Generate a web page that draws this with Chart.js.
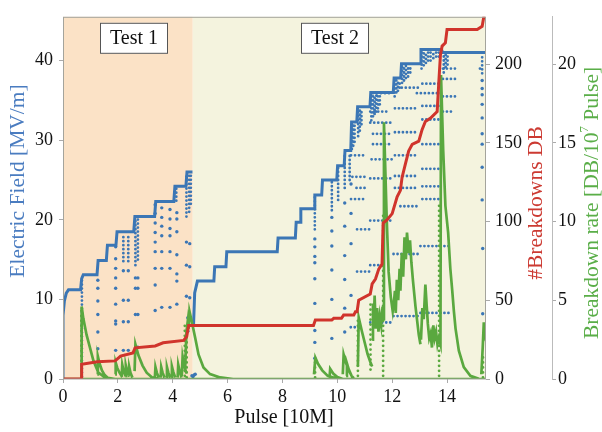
<!DOCTYPE html>
<html>
<head>
<meta charset="utf-8">
<script src="https://cdn.jsdelivr.net/npm/chart.js@4.4.1/dist/chart.umd.min.js"></script>
<style>
  body { margin: 0; background: #fff; }
</style>
</head>
<body>
<canvas id="chart" width="602" height="432"></canvas>
<script>
// ---- data ----
const xTicks = [0, 2, 4, 6, 8, 10, 12, 14];
const fieldTicks = [0, 10, 20, 30, 40];
const dbTicks = [0, 50, 100, 150, 200];
const rateTicks = [0, 5, 10, 15, 20];

const testNames = ["Test 1", "Test 2"];
const testStart = [0, 4.73];
const testEnd = [4.73, 15.42];
const testLabelAt = [2.59, 9.93];

// electric field steps [MV/m] vs pulse [10M]
const fieldPulse = [0, 0, 0.05, 0.12, 0.2, 0.64, 0.68, 0.74, 1.24, 1.28, 1.58, 1.62, 1.93, 1.97, 2.58, 2.62, 3.34, 3.38, 4.04, 4.08, 4.48, 4.52, 4.72, 4.74,
  4.76, 4.8, 4.9, 5.5, 5.53, 5.94, 5.97, 7.81, 7.84, 8.47, 8.5, 8.64, 8.67, 9.15, 9.18, 9.43, 9.46, 9.98, 10.01, 10.25, 10.28, 10.49, 10.52,
  10.71, 10.74, 11.19, 11.22, 12.04, 12.07, 12.31, 12.34, 13.02, 13.05, 13.8, 13.84, 15.42];
const fieldValue = [0, 8.0, 9.8, 10.8, 11.2, 11.2, 12.6, 13.1, 13.1, 14.9, 14.9, 16.8, 16.8, 18.5, 18.5, 20.4, 20.4, 22.3, 22.3, 24.2, 24.2, 26.0, 26.0, null,
  6.9, 10.8, 12.3, 12.3, 14.1, 14.1, 16.0, 16.0, 17.7, 17.7, 19.7, 19.7, 21.4, 21.4, 23.1, 23.1, 25.0, 25.0, 26.8, 26.8, 28.7, 28.7, 32.3,
  32.3, 34.2, 34.2, 36.0, 36.0, 37.8, 37.8, 39.6, 39.6, 41.4, 41.4, 41.0, 41.0];

// field readings after breakdowns
const fieldDots = [
  [1.27, 12.4], [1.27, 11.4], [1.27, 9.8], [1.27, 8.1], [1.27, 5.9], [1.27, 3.8],
  [1.92, 16.6], [1.92, 15.1], [1.92, 13.9], [1.92, 12.7], [1.92, 11.4], [1.92, 9.4], [1.92, 7.3], [1.92, 6.9], [1.92, 3.6],
  [2.2, 13.6], [2.2, 9.9], [2.2, 7.2], [2.2, 3.6], [2.38, 13.6], [2.38, 9.9], [2.38, 7.2], [2.38, 3.6],
  [2.64, 12.7], [2.64, 11.4], [2.64, 8.1], [2.64, 3.9], [2.73, 12.7], [2.73, 11.4], [2.73, 8.1], [2.73, 4.0],
  [3.36, 21.9], [3.36, 20.8], [3.36, 19.6], [3.36, 18.4], [3.36, 17.2], [3.36, 16.0], [3.36, 13.9], [3.36, 11.8], [3.36, 8.6],
  [3.6, 21.5], [3.6, 20.3], [3.6, 19.2], [3.6, 18.0], [3.6, 16.0], [3.6, 13.9], [3.6, 9.0],
  [3.9, 21.3], [3.9, 20.1], [3.9, 18.9], [3.9, 18.0], [3.9, 16.0], [3.9, 13.9], [3.9, 9.0],
  [4.15, 20.9], [4.15, 20.1], [4.15, 18.5], [4.15, 15.6], [4.15, 13.2], [4.15, 12.3], [4.15, 9.4],
  [4.5, 17.2], [4.5, 14.3], [4.5, 10.4], [4.55, 7.7], [4.55, 6.0], [4.62, 17.0], [4.62, 14.1], [4.62, 10.2],
  [4.7, 0.4], [4.74, 0.3], [4.78, 0.5], [4.82, 0.6],
  [9.18, 17.6], [9.18, 16.6], [9.18, 15.4], [9.18, 14.6], [9.18, 12.6], [9.18, 9.5], [9.18, 6.1], [9.18, 4.6], [9.18, 2.6],
  [9.8, 20.3], [9.8, 18.6], [9.8, 16.7], [9.8, 13.7], [9.8, 10.0], [9.8, 5.1],
  [10.27, 22.1], [10.27, 19.2], [10.27, 15.5], [10.27, 12.5], [10.27, 8.9], [10.27, 5.9],
  [10.5, 24.5], [10.5, 20.8], [10.5, 17.0], [10.5, 10.5],
  [15.28, 37.5], [15.28, 36.5], [15.28, 35.7], [15.28, 34.5], [15.28, 32.8], [15.28, 30.8], [15.28, 29.5], [15.28, 26.6],
  [15.28, 22.5], [15.3, 16.4], [15.3, 8.2],
];
// dotted field trails: columns [pulse, from, to]
const fieldCols = [
  [0.69, 0.3, 12.8], [2.2, 14.8, 18.3], [2.38, 14.8, 18.3], [2.64, 14.3, 20.2], [2.73, 15.0, 20.2], [4.13, 22.4, 24.0],
  [4.5, 20.4, 25.8], [4.6, 21.0, 25.8], [4.66, 22.0, 25.8],
  [9.18, 18.8, 23.0], [9.8, 21.2, 24.9], [10.03, 22.5, 26.6], [10.27, 24.0, 28.5], [10.45, 25.0, 28.5],
  [10.53, 28.9, 32.1], [10.58, 29.3, 32.1], [10.63, 29.8, 32.1], [10.76, 30.5, 34.0], [10.82, 31.2, 34.0], [10.88, 32.0, 34.0],
  [11.24, 32.5, 35.8], [11.3, 33.0, 35.8], [11.36, 33.3, 35.8], [11.42, 33.6, 35.8], [11.48, 34.0, 35.8], [11.55, 34.5, 35.8],
  [12.09, 35.5, 37.6], [12.15, 36.0, 37.6], [12.21, 36.2, 37.6], [12.27, 36.6, 37.6],
  [12.36, 37.2, 39.4], [12.43, 37.5, 39.4], [12.5, 37.8, 39.4], [12.58, 38.0, 39.4], [12.66, 38.5, 39.4],
  [13.07, 39.0, 41.2], [13.15, 39.4, 41.2], [13.23, 39.7, 41.2], [13.31, 40.0, 41.2], [13.4, 40.0, 41.2], [13.5, 40.3, 41.2],
  [13.6, 40.5, 41.2], [13.7, 40.5, 41.2], [13.88, 38.5, 40.8], [13.95, 39.2, 40.8], [14.02, 39.5, 40.8], [15.28, 38.4, 40.8],
];
// dotted field trails: rows [from pulse, to pulse, field]
const fieldRows = [
  [13.85, 14.4, 39.0], [15.2, 15.32, 39.0], [13.85, 14.3, 37.7], [13.1, 13.8, 37.1], [11.3, 12.0, 35.9], [12.9, 13.8, 35.9],
  [13.85, 14.3, 35.5], [12.1, 12.9, 34.0], [11.2, 11.9, 33.6], [13.1, 13.8, 32.6], [11.2, 12.0, 32.2], [12.1, 12.9, 31.0],
  [11.3, 11.9, 29.5], [13.1, 13.8, 29.5], [10.5, 11.0, 28.1], [12.1, 12.9, 28.1], [13.1, 13.8, 26.4], [11.2, 12.0, 25.2],
  [10.7, 11.1, 24.0], [12.1, 12.9, 24.0], [10.5, 11.0, 22.6], [13.1, 13.8, 22.6], [12.3, 13.0, 21.7], [11.2, 12.05, 19.9],
  [10.72, 11.2, 18.8], [13.03, 14.1, 16.7], [12.05, 13.03, 15.7], [11.2, 11.68, 14.3], [10.72, 11.2, 13.5],
  [13.03, 14.1, 8.3], [12.05, 13.03, 7.9], [11.2, 12.05, 7.1], [10.49, 10.85, 6.5],
  [12.35, 13.0, 36.6], [13.1, 13.8, 34.3], [12.1, 12.9, 25.5], [11.3, 12.0, 30.8], [13.1, 13.8, 24.2],
  [10.55, 11.0, 25.4], [13.85, 14.2, 33.6], [11.25, 12.0, 27.6],
];

// cumulative breakdowns
const dbPulse = [0, 0.68, 0.68, 1.25, 1.9, 2.1, 2.55, 2.63, 3.36, 3.65, 4.4, 4.51, 4.58, 9.13, 9.2, 9.8, 9.87, 10.15, 10.23, 10.6, 10.66,
  10.72, 10.78, 11.2, 11.27, 11.39, 11.51, 11.63, 11.67, 11.81, 12.0, 12.18, 12.3, 12.36, 12.48, 12.6, 12.73, 12.97, 13.09, 13.21,
  13.39, 13.64, 13.7, 13.76, 13.82, 13.94, 14.0, 15.1, 15.28, 15.36];
const dbCount = [0, 0, 9.4, 11, 11.5, 14.6, 16.6, 19.8, 21, 23, 24.5, 27, 34, 34, 37.5, 37.5, 38.5, 38.5, 40.6, 40.6, 42.7,
  42.7, 50, 54, 60.4, 63.5, 69.8, 72.9, 99, 101, 105, 115.7, 119.8, 128, 136.4, 144.7, 149, 151, 158.3, 163.5,
  165.6, 169.8, 188.5, 206, 211.4, 213.5, 222, 222, 224, 232];

// breakdown rate [DB/1e7 pulse]: decay arcs after each breakdown burst
const rateArcs = [
  [[0, 0], [15.42, 0]],
  [[0.66, 0], [0.68, 4.6], [0.74, 3.85], [0.86, 2.8], [0.99, 1.95], [1.11, 1.15], [1.29, 0.4], [1.53, 0.1], [1.9, 0]],
  [[1.25, 0.3], [1.27, 1.45], [1.33, 1.0], [1.42, 0.55], [1.52, 0.25], [1.65, 0.05]],
  [[1.9, 0.3], [1.92, 1.05], [1.98, 0.7], [2.06, 0.4], [2.16, 0.12]],
  [[2.14, 0.2], [2.16, 0.9], [2.21, 0.5], [2.28, 0.18]],
  [[2.27, 0.2], [2.29, 0.85], [2.34, 0.45], [2.41, 0.15]],
  [[2.39, 0.2], [2.41, 0.8], [2.46, 0.4], [2.53, 0.1]],
  [[2.61, 0.5], [2.64, 2.2], [2.75, 1.5], [2.9, 0.85], [3.05, 0.4], [3.25, 0.1], [3.5, 0]],
  [[3.35, 0.1], [3.37, 0.75], [3.42, 0.4], [3.49, 0.1]],
  [[3.56, 0.1], [3.58, 0.75], [3.63, 0.4], [3.7, 0.1]],
  [[3.77, 0.1], [3.79, 0.75], [3.84, 0.4], [3.91, 0.1]],
  [[3.95, 0.1], [3.97, 0.8], [4.02, 0.45], [4.09, 0.1]],
  [[4.18, 0.1], [4.2, 0.9], [4.25, 0.5], [4.32, 0.1]],
  [[4.33, 0.2], [4.36, 1.4], [4.41, 0.9], [4.5, 0.35]],
  [[4.45, 0.5], [4.5, 3.0], [4.55, 3.7], [4.58, 3.2], [4.61, 4.3], [4.7, 3.6], [4.82, 2.6], [4.94, 1.56], [5.12, 0.73], [5.36, 0.31], [5.73, 0.1], [6.2, 0]],
  [[9.15, 0.3], [9.2, 1.35], [9.3, 0.95], [9.45, 0.55], [9.65, 0.2], [9.95, 0.05]],
  [[9.72, 0.2], [9.74, 0.65], [9.85, 0.35], [10.0, 0.12], [10.2, 0]],
  [[10.2, 0.3], [10.23, 1.55], [10.3, 1.1], [10.4, 0.6], [10.55, 0.1]],
  [[10.32, 0.2], [10.35, 1.0], [10.42, 0.6], [10.52, 0.2], [10.6, 0.05]],
  [[10.75, 0.8], [10.78, 3.9], [10.9, 3.0], [11.0, 2.3], [11.1, 1.6], [11.2, 1.1], [11.27, 0.8]],
  [[11.27, 2.5], [11.3, 4.8], [11.33, 3.5], [11.36, 5.3], [11.4, 3.2], [11.45, 4.5], [11.5, 3.0], [11.55, 4.0], [11.6, 3.4], [11.65, 4.6],
    [11.68, 3.8], [11.7, 16.3], [11.8, 10.2], [11.87, 6.8], [11.95, 5.2], [12.02, 4.3], [12.06, 4.8], [12.1, 5.6], [12.13, 4.2], [12.17, 6.3],
    [12.22, 5.0], [12.27, 7.0], [12.3, 5.6], [12.35, 8.0], [12.4, 6.5], [12.45, 9.0], [12.5, 7.6], [12.54, 9.3], [12.6, 8.0], [12.65, 8.8],
    [12.7, 7.4], [12.76, 6.2], [12.85, 4.6], [12.97, 2.8], [13.03, 2.2]],
  [[13.05, 2.5], [13.1, 4.5], [13.15, 3.8], [13.21, 6.0], [13.26, 4.6], [13.3, 3.5], [13.35, 2.6], [13.4, 2.9], [13.45, 2.0], [13.5, 3.4],
    [13.55, 2.6], [13.6, 3.0], [13.65, 2.2], [13.7, 2.6], [13.76, 2.2], [13.78, 19.3], [13.86, 14.5], [13.94, 11.0], [14.04, 9.3],
    [14.12, 7.0], [14.19, 5.6], [14.25, 4.3], [14.31, 3.2], [14.43, 1.8], [14.61, 0.75], [14.85, 0.2], [15.16, 0.02]],
  [[15.25, 0.3], [15.3, 2.0], [15.34, 3.6], [15.38, 3.0], [15.42, 2.4]],
];
// dotted rate trails [pulse, from, to]
const rateTrails = [
  [0.67, 0.2, 4.4], [4.44, 0.2, 3.6], [4.51, 0.1, 3.2], [9.19, 0.1, 1.2], [10.75, 0.2, 3.7], [11.21, 0.6, 5.0],
  [11.67, 0.2, 10.5], [13.71, 0.2, 11.0], [15.31, 0.1, 1.6],
];

// ---- drawing ----
const BLUE = "#3b76b5";
const RED = "#d0342c";
const GREEN = "#5aa83f";
const SERIF = "'Liberation Serif', 'Times New Roman', serif";
const testColors = ["#fbe2c6", "#f4f3de"];

Chart.defaults.font.family = SERIF;

const pts = (xs, ys) => xs.map((x, i) => ({ x, y: ys[i] }));
const pathOf = segs => segs.flatMap(seg => [...seg.map(([x, y]) => ({ x, y })), { x: seg[seg.length - 1][0], y: null }]);
const rowSegs = rows => rows.map(([x1, x2, y]) => [[x1, y], [x2, y]]);
const colSegs = cols => cols.map(([x, y1, y2]) => [[x, y1], [x, y2]]);
const fixedTicks = values => scale => { scale.ticks = values.map(value => ({ value })); };
const tickFont = { family: SERIF, size: 18 };

function vText(ctx, parts, cx, cy, color) {
  ctx.save();
  ctx.translate(cx, cy);
  ctx.rotate(-Math.PI / 2);
  ctx.fillStyle = color;
  ctx.textBaseline = "middle";
  ctx.textAlign = "left";
  let total = 0;
  parts.forEach(p => { ctx.font = p[1] + "px " + SERIF; total += ctx.measureText(p[0]).width; });
  let pos = -total / 2;
  parts.forEach(p => {
    ctx.font = p[1] + "px " + SERIF;
    ctx.fillText(p[0], pos, p[2]);
    pos += ctx.measureText(p[0]).width;
  });
  ctx.restore();
}

const decor = {
  id: "decor",
  beforeDatasetsDraw(chart) {
    const { ctx, chartArea: a, scales: { x } } = chart;
    ctx.save();
    testNames.forEach((name, i) => {
      const l = x.getPixelForValue(testStart[i]);
      const r = x.getPixelForValue(testEnd[i]);
      ctx.fillStyle = testColors[i];
      ctx.fillRect(l, a.top, r - l, a.bottom - a.top);
    });
    ctx.restore();
  },
  afterDatasetsDraw(chart) {
    const { ctx, chartArea: a, scales: { x } } = chart;
    ctx.save();
    ctx.strokeStyle = "#a4a49c";
    ctx.lineWidth = 1;
    ctx.strokeRect(a.left + 0.5, a.top + 0.5, a.right - a.left - 1, a.bottom - a.top - 0.5);
    ctx.font = "20px " + SERIF;
    ctx.textAlign = "center";
    ctx.textBaseline = "middle";
    testNames.forEach((name, i) => {
      const cx = Math.round(x.getPixelForValue(testLabelAt[i]));
      ctx.fillStyle = "#fff";
      ctx.fillRect(cx - 34, a.top + 6, 68, 31);
      ctx.strokeStyle = "#555";
      ctx.strokeRect(cx - 33.5, a.top + 6.5, 67, 30);
      ctx.fillStyle = "#111";
      ctx.fillText(name, cx, a.top + 22);
    });
    ctx.restore();
  },
  afterDraw(chart) {
    const { ctx } = chart;
    vText(ctx, [["Electric Field [MV/m]", 21.5, 0]], 18, 181, "#4a7cc0");
    vText(ctx, [["#Breakdowns DB", 21.5, 0]], 536, 203, "#cc3a32");
    vText(ctx, [["Breakdown rate [DB/10", 21.5, 0], ["7", 13, -7], [" Pulse]", 21.5, 0]], 592, 203, "#5aae48");
    ctx.save();
    ctx.font = "20px " + SERIF;
    ctx.fillStyle = "#111";
    ctx.textAlign = "center";
    ctx.textBaseline = "middle";
    ctx.fillText("Pulse [10M]", 284, 418);
    ctx.restore();
  },
};

const config = {
  type: "line",
  data: {
    datasets: [
      { data: pts(dbPulse, dbCount), yAxisID: "y1", borderColor: RED, borderWidth: 3, pointRadius: 0, order: 0 },
      { data: pathOf(rateArcs), yAxisID: "y2", borderColor: GREEN, borderWidth: 2.7, pointRadius: 0, order: 1 },
      { data: pathOf(colSegs(rateTrails)), yAxisID: "y2", borderColor: GREEN, borderWidth: 2.8,
        borderDash: [0, 5], borderCapStyle: "round", pointRadius: 0, order: 1 },
      { data: pts(fieldPulse, fieldValue), yAxisID: "y", borderColor: BLUE, borderWidth: 3, pointRadius: 0, order: 2 },
      { data: pathOf([...rowSegs(fieldRows), ...colSegs(fieldCols)]), yAxisID: "y", borderColor: BLUE, borderWidth: 2.8,
        borderDash: [0, 4], borderCapStyle: "round", pointRadius: 0, order: 3 },
      { data: fieldDots.map(([x, y]) => ({ x, y })), yAxisID: "y", showLine: false, pointRadius: 1.7,
        pointBackgroundColor: BLUE, pointBorderWidth: 0, order: 3 },
    ],
  },
  options: {
    responsive: false,
    animation: false,
    events: [],
    spanGaps: false,
    layout: { padding: { top: 10, left: 0, right: 0, bottom: 0 } },
    plugins: { legend: { display: false }, tooltip: { enabled: false } },
    scales: {
      x: {
        type: "linear", min: 0, max: 15.42,
        afterBuildTicks: fixedTicks(xTicks),
        afterFit: s => { s.height = 53; },
        grid: { drawOnChartArea: false, tickLength: 4, color: "#aaa" },
        border: { display: false },
        ticks: { font: tickFont, color: "#111", padding: 3, maxRotation: 0 },
      },
      y: {
        position: "left", min: 0, max: 45.5,
        afterBuildTicks: fixedTicks(fieldTicks),
        afterFit: s => { s.width = 63; },
        grid: { drawOnChartArea: false, tickLength: 4, color: "#aaa" },
        border: { display: false },
        ticks: { font: tickFont, color: "#111", padding: 6 },
      },
      y1: {
        position: "right", min: 0, max: 230,
        afterBuildTicks: fixedTicks(dbTicks),
        afterFit: s => { s.width = 66; },
        grid: { drawOnChartArea: false, tickLength: 4, color: "#aaa" },
        border: { display: false },
        ticks: { font: tickFont, color: "#111", padding: 5 },
      },
      y2: {
        position: "right", min: 0, max: 23,
        afterBuildTicks: fixedTicks(rateTicks),
        afterFit: s => { s.width = 50; },
        grid: { drawOnChartArea: false, tickLength: 4, color: "#aaa" },
        border: { display: true, color: "#bbb" },
        ticks: { font: tickFont, color: "#111", padding: 2 },
      },
    },
  },
  plugins: [decor],
};

const myChart = new Chart(document.getElementById("chart"), config);
</script>
</body>
</html>
